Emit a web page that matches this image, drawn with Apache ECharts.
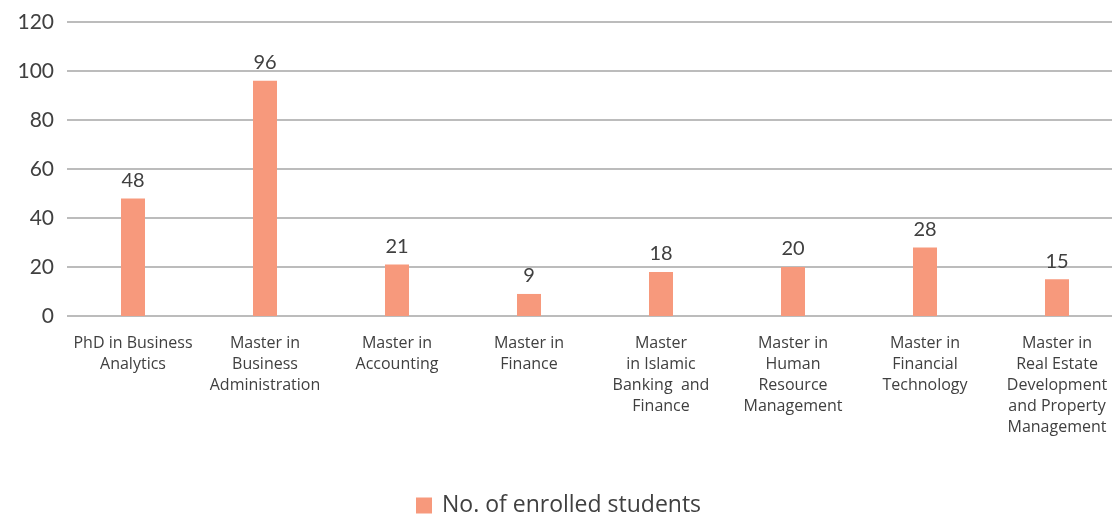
<!DOCTYPE html>
<html>
<head>
<meta charset="utf-8">
<script src="https://cdn.jsdelivr.net/npm/echarts@6/dist/echarts.min.js"></script>
<style>
  html, body { margin: 0; padding: 0; background: #fff; overflow: hidden; }
  #chart { width: 1123px; height: 516px; }
</style>
</head>
<body>
<div id="chart"></div>
<script>
// programme names, with line breaks as they appear under the axis
const programmes = [
  'PhD in Business\nAnalytics',
  'Master in\nBusiness\nAdministration',
  'Master in\nAccounting',
  'Master in\nFinance',
  'Master\nin Islamic\nBanking  and\nFinance',
  'Master in\nHuman\nResource\nManagement',
  'Master in\nFinancial\nTechnology',
  'Master in\nReal Estate\nDevelopment\nand Property\nManagement'
]
const enrolled = [48, 96, 21, 9, 18, 20, 28, 15]
const seriesName = 'No. of enrolled students'

const chart = echarts.init(document.getElementById('chart'))

// the plot runs a little past the right edge of the window, like the original
const option = {
  backgroundColor: '#fff',
  animation: false,
  grid: {
    left: 67,
    right: 0,
    top: 22,
    bottom: 200,
    containLabel: false
  },
  legend: {
    data: [seriesName],
    top: 489,
    left: 411,
    icon: 'rect',
    itemWidth: 16,
    itemHeight: 16,
    itemGap: 10,
    textStyle: { fontFamily: 'Open Sans', fontSize: 23, color: '#404040', padding: [0, 0, 0, 5] }
  },
  xAxis: {
    type: 'category',
    data: programmes,
    axisLine: { show: false },
    axisTick: { show: false },
    axisLabel: {
      interval: 0,
      margin: 17,
      fontFamily: 'Open Sans',
      fontSize: 16,
      lineHeight: 21,
      color: '#404040',
      align: 'center'
    }
  },
  yAxis: {
    type: 'value',
    min: 0,
    max: 120,
    interval: 20,
    axisLine: { show: false },
    axisTick: { show: false },
    axisLabel: {
      margin: 13,
      fontFamily: 'Lato',
      fontSize: 21,
      color: '#404040'
    },
    splitLine: { lineStyle: { color: '#a6a6a6', width: 1.5 } }
  },
  series: [
    {
      name: seriesName,
      type: 'bar',
      data: enrolled,
      barWidth: 24,
      itemStyle: { color: '#f7997c' },
      label: {
        show: true,
        position: 'top',
        distance: 8,
        fontFamily: 'Lato',
        fontSize: 20,
        color: '#404040'
      }
    }
  ]
}

chart.setOption(option)
</script>
</body>
</html>
